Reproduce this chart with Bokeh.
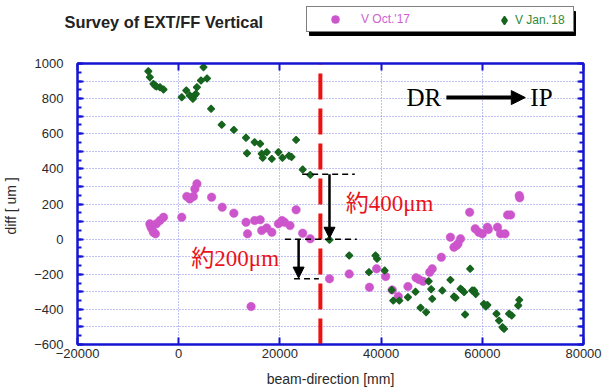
from bokeh.plotting import figure
from bokeh.layouts import column
from bokeh.models import (Range1d, LinearAxis, SingleIntervalTicker, Arrow, NormalHead,
                          Legend, LegendItem, Label, BoxAnnotation)
from bokeh.embed import file_html
from bokeh.resources import INLINE
from bokeh.core.properties import value

# ---------------- data ----------------
oct17_x = [-5700, -5500, -5300, -5000, -4600, -4400, -3700, -3000,
           600, 1600, 2200, 2900, 3200, 3600, 6500, 8600, 10900, 13300, 13600, 14300,
           15000, 16100, 16400, 17400, 18400, 19700, 20400, 20900, 22000, 23200, 24500, 26000,
           29800, 33700, 37700, 39100, 40900, 42200, 43400, 45300, 46900, 47500, 48300, 49600,
           50100, 51900, 53700, 54400, 54900, 55200, 55700, 57500, 58600, 59300, 60000, 61000,
           61200, 63000, 63600, 64500, 65000, 65600, 67300, 67400]
oct17_y = [87, 70, 59, 39, 30, 87, 106, 125,
           125, 243, 229, 243, 286, 315, 239, 182, 148, 96, 30, -384,
           106, 110, 49, 64, 39, 87, 106, 96, 77, 167, 34, 2,
           -226, -198, -274, -169, -213, -289, -327, -270, -220, -230, -240, -189,
           -169, -103, 11, -46, -36, -27, 2, 153, 59, 39, 30, 68,
           55, 68, 30, 30, 138, 138, 248, 235]

jan18_x = [-6000, -5700, -5000, -4700, -4400, -3700, -3000,
           600, 1500, 2200, 2800, 3100, 3400, 3600, 4400, 4900, 5600, 6400,
           8500, 10900, 13300, 13500, 15000, 16100, 16400, 16600, 17400, 18400, 19700, 20500,
           21800, 22300, 23200, 24500, 26000,
           29800, 33700, 37600, 38900, 39200, 40700, 42100, 42400, 43600, 45300, 46800, 47800,
           48900, 49400, 49900, 50100,
           52100, 53700, 54400, 54700, 55700, 56000, 56400, 56600, 57600, 58000, 58400, 58700,
           60300, 60700, 61000, 62800, 63300, 64000, 64300, 65300, 65800, 67100, 67300]
jan18_y = [956, 922, 884, 875, 869, 865, 852,
           808, 846, 818, 799, 818, 827, 865, 903, 979, 915, 742,
           651, 622, 577, 489, 552, 543, 486, 463, 495, 457, 495, 463,
           475, 468, 565, 396, 366,
           -4, -93, -188, -93, -112, -179, -290, -350, -350, -331, -300, -391,
           -416, -240, -285, -340,
           -293, -232, -327, -334, -283, -289, -302, -429, -169, -293, -293, -312,
           -369, -384, -375, -425, -464, -502, -511, -425, -435, -378, -346]

series_labels = ["V Oct.'17", "V Jan.'18"]
title_text = "Survey of EXT/FF Vertical"

# annotation positions (data units)
divider_x = 28000
guide_y = [370, 0, -225]
guide_x0 = [24400, 21000, 22800]
guide_x1 = [34800, 35200, 27700]
arrow_400 = (29800, 370, 29800, 5)
arrow_200 = (23700, 0, 23700, -222)
notes_text = ["約400μm", "約200μm"]
notes_x = [33000, 2500]
notes_y = [203, -110]
dir_text = ["DR", "IP"]
dir_x = [45000, 69500]
dir_y = [806, 806]
dir_arrow = (52900, 806, 68500, 806)

# ---------------- style ----------------
BLUE = "#1414d2"
GRID = "#8484ea"
MAG = "#cc55cc"
GRN = "#16641e"
MAG_TXT = "#d060d0"
GRN_TXT = "#2e8a3a"
SANS = "Liberation Sans"
NAN = float("nan")

HEAD_H = 52

# ---------------- header (title + legend) ----------------
head = figure(width=607, height=HEAD_H, x_range=Range1d(0, 607), y_range=Range1d(HEAD_H, 0),
              output_backend="svg", toolbar_location=None, x_axis_type=None, y_axis_type=None,
              min_border=0, background_fill_color="white", border_fill_color="white")
head.frame_align = False
head.outline_line_color = None
head.grid.visible = False

head.add_layout(Label(x=64, y=21, text=title_text, text_font=SANS,
                      text_font_style="bold", text_font_size="16.4px",
                      text_color="#222222", text_baseline="middle"))

# legend proxies (no visible points)
hm = head.scatter(x=[NAN], y=[NAN], marker="circle", size=8.5,
                  fill_color=MAG, line_color=MAG, line_width=0.5)
hg = head.scatter(x=[NAN], y=[NAN], marker="diamond", size=8,
                  fill_color=GRN, line_color=GRN, line_width=1.5)

# legend box shadow
head.add_layout(BoxAnnotation(left=309, right=575, top=11, bottom=35,
                              fill_color="black", fill_alpha=1,
                              line_color="black", line_alpha=1))

leg_m = Legend(items=[LegendItem(label=series_labels[0], renderers=[hm])],
               location=(306, 20), orientation="horizontal", padding=2, margin=0,
               spacing=0, glyph_width=52, glyph_height=20, label_standoff=0,
               label_width=210, label_height=20, label_text_font=SANS,
               label_text_font_size="12px",
               border_line_color="black", border_line_width=1.5,
               background_fill_color="white", background_fill_alpha=1,
               label_text_color=MAG_TXT)
leg_g = Legend(items=[LegendItem(label=series_labels[1], renderers=[hg])],
               location=(494, 22), orientation="horizontal", padding=0, margin=0,
               spacing=0, glyph_width=20, glyph_height=20, label_standoff=1,
               label_height=20, border_line_color=None, background_fill_alpha=0,
               label_text_font=SANS, label_text_font_size="12px",
               label_text_color=GRN_TXT)
head.add_layout(leg_m, "center")
head.add_layout(leg_g, "center")

# ---------------- main plot ----------------
p = figure(frame_width=506, frame_height=281,
           x_range=Range1d(-20000, 80000), y_range=Range1d(-600, 1000),
           output_backend="svg", toolbar_location=None,
           min_border_left=76, min_border_right=25, min_border_top=63 - HEAD_H,
           min_border_bottom=46,
           background_fill_color="white", border_fill_color="white")
p.frame_align = False
p.outline_line_color = BLUE
p.outline_line_width = 2

xt = SingleIntervalTicker(interval=20000, num_minor_ticks=0)
yt = SingleIntervalTicker(interval=100, num_minor_ticks=2)

def style_axis(ax, ticker):
    ax.ticker = ticker
    ax.axis_line_color = BLUE
    ax.axis_line_width = 2
    ax.major_tick_line_color = BLUE
    ax.major_tick_line_width = 2
    ax.major_tick_in = 6
    ax.major_tick_out = 0
    ax.minor_tick_line_color = BLUE
    ax.minor_tick_line_width = 2
    ax.minor_tick_in = 4
    ax.minor_tick_out = 0
    ax.major_label_text_font = SANS
    ax.major_label_text_font_size = "13px"
    ax.major_label_text_color = "#2a2a2a"
    ax.axis_label_text_font = SANS
    ax.axis_label_text_font_size = "14px"
    ax.axis_label_text_font_style = "normal"
    ax.axis_label_text_color = "#2a2a2a"

xa = p.below[0]
ya = p.left[0]
style_axis(xa, xt)
style_axis(ya, yt)
xa.minor_tick_line_color = None
xa.major_tick_in = 7
xa.major_label_standoff = 4
xa.axis_label = "beam-direction [mm]"
xa.axis_label_standoff = 10
ya.major_label_standoff = 14
ya.axis_label = "diff  [ um ]"
ya.axis_label_standoff = 12
ya.major_label_overrides = {v: "" for v in range(-500, 1000, 200)}

top_ax = LinearAxis()
style_axis(top_ax, xt)
top_ax.minor_tick_line_color = None
top_ax.major_tick_in = 7
top_ax.major_label_standoff = 0
top_ax.major_label_overrides = {v: "" for v in range(-20000, 80001, 20000)}
p.add_layout(top_ax, "above")

right_ax = LinearAxis()
style_axis(right_ax, yt)
right_ax.major_label_standoff = 0
right_ax.major_label_overrides = {v: "" for v in range(-600, 1001, 100)}
p.add_layout(right_ax, "right")

p.xgrid.ticker = xt
p.ygrid.ticker = yt
for g in (p.xgrid, p.ygrid):
    g.grid_line_color = GRID
    g.grid_line_dash = "1 2"
    g.grid_line_width = 1

r_m = p.scatter(oct17_x, oct17_y, marker="circle", size=8.5,
                fill_color=MAG, line_color=MAG, line_width=0.5)
r_g = p.scatter(jan18_x, jan18_y, marker="square", angle=45, angle_units="deg", size=5,
                fill_color=GRN, line_color=GRN, line_width=1.2)

p.segment(x0=[divider_x], y0=[-600], x1=[divider_x], y1=[1000],
          line_color="#ee1111", line_width=4, line_dash="26 9")
p.segment(x0=guide_x0, y0=guide_y, x1=guide_x1, y1=guide_y,
          line_color="black", line_width=1.5, line_dash="6 4")
for (xs, ys, xe, ye) in (arrow_400, arrow_200):
    p.add_layout(Arrow(end=NormalHead(size=11, fill_color="black", line_color="black"),
                       x_start=xs, y_start=ys, x_end=xe, y_end=ye,
                       line_color="black", line_width=2.5))
p.add_layout(Arrow(end=NormalHead(size=14, fill_color="black", line_color="black"),
                   x_start=dir_arrow[0], y_start=dir_arrow[1],
                   x_end=dir_arrow[2], y_end=dir_arrow[3],
                   line_color="black", line_width=4))

p.text(x=notes_x, y=notes_y, text=notes_text,
       text_font=value("Liberation Serif, Noto Sans CJK JP"), text_font_size="23px",
       text_color="#e8141c", text_baseline="middle", text_align="left")
p.text(x=dir_x, y=dir_y, text=dir_text,
       text_font=value("Liberation Serif"), text_font_size="25px",
       text_color="black", text_baseline="middle", text_align="left")

layout = column(head, p, spacing=0)
open("out.html", "w").write(file_html(layout, INLINE))
